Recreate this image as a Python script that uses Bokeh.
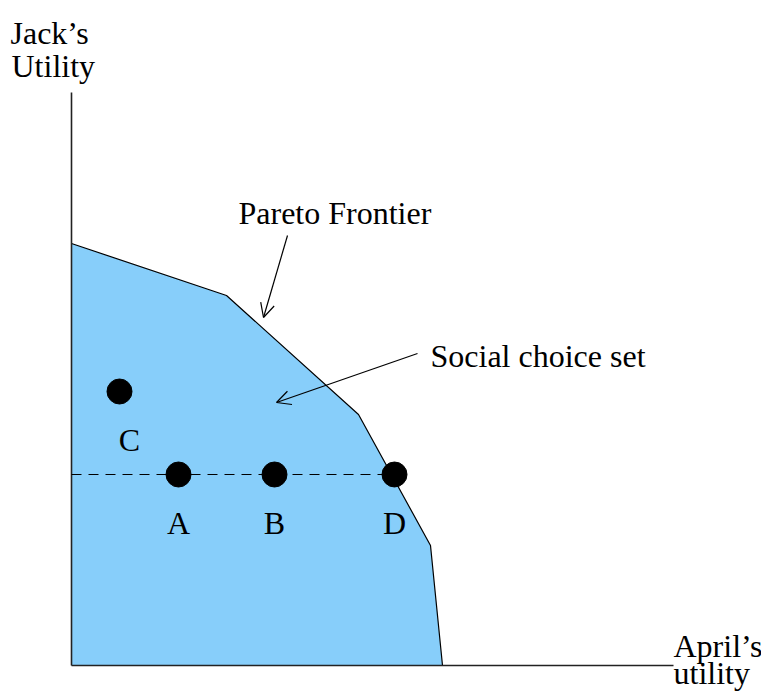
from bokeh.plotting import figure
from bokeh.models import Arrow, OpenHead, Range1d
from bokeh.core.properties import value
from bokeh.embed import file_html
from bokeh.resources import INLINE

# Pareto frontier (April's utility, Jack's utility)
frontier_x = [0.0, 15.5, 28.7, 35.9, 37.1]
frontier_y = [42.2, 37.0, 25.1, 12.0, 0.0]

# Outcomes
point_names = ["C", "A", "B", "D"]
point_x = [4.8, 10.7, 20.3, 32.3]
point_y = [27.4, 19.1, 19.1, 19.1]

# Axis extents
x_axis_end = 60.2
y_axis_end = 57.3

FONT = value("Liberation Serif")
FS = value("32px")

p = figure(width=761, height=692, output_backend="svg", toolbar_location=None,
           x_range=Range1d(-7.1, 69.0), y_range=Range1d(-2.7, 66.5),
           min_border=0, outline_line_color=None)
p.axis.visible = False
p.grid.visible = False

# social choice set
poly_x = [0.0] + frontier_x + [0.0]
poly_y = [0.0] + frontier_y + [0.0]
p.patch(poly_x, poly_y, fill_color="#87CEFA", line_color=None)
p.line(frontier_x, frontier_y, line_color="black", line_width=1.2)

# axes
p.line([0, 0], [0, y_axis_end], line_color="#222222", line_width=1.6)
p.line([0, x_axis_end], [0, 0], line_color="#222222", line_width=1.6)

# dashed line through A, B, D
p.line([0, point_x[3]], [point_y[1], point_y[3]], line_color="black",
       line_width=1.2, line_dash="10 7")

p.scatter(point_x, point_y, size=25, color="black")

# point labels
lab_dy = 4.8
p.text([x + 1.0 if n == "C" else x for x, n in zip(point_x, point_names)],
       [y - lab_dy for y in point_y], text=point_names,
       text_font=FONT, text_font_size=FS, text_align="center",
       text_baseline="alphabetic", text_color="black")

# axis titles and annotations
p.text([-6.1, -6.0], [63.3, 60.0], text=["Jack\u2019s", "Utility"],
       text_font=FONT, text_font_size=FS, text_baseline="alphabetic")
p.text([60.2, 60.2], [2.0, -0.7], text=["April\u2019s", "utility"],
       text_font=FONT, text_font_size=FS, text_baseline="alphabetic")
p.text([16.7], [45.3], text=["Pareto Frontier"],
       text_font=FONT, text_font_size=FS, text_baseline="alphabetic")
p.text([35.9], [31.0], text=["Social choice set"],
       text_font=FONT, text_font_size=FS, text_baseline="alphabetic")

p.add_layout(Arrow(end=OpenHead(size=14, line_width=1.2), x_start=21.6, y_start=43.0,
                   x_end=19.2, y_end=34.8, line_width=1.2))
p.add_layout(Arrow(end=OpenHead(size=14, line_width=1.2), x_start=34.6, y_start=31.2,
                   x_end=20.5, y_end=26.3, line_width=1.2))

open("out.html", "w").write(file_html(p, INLINE))
